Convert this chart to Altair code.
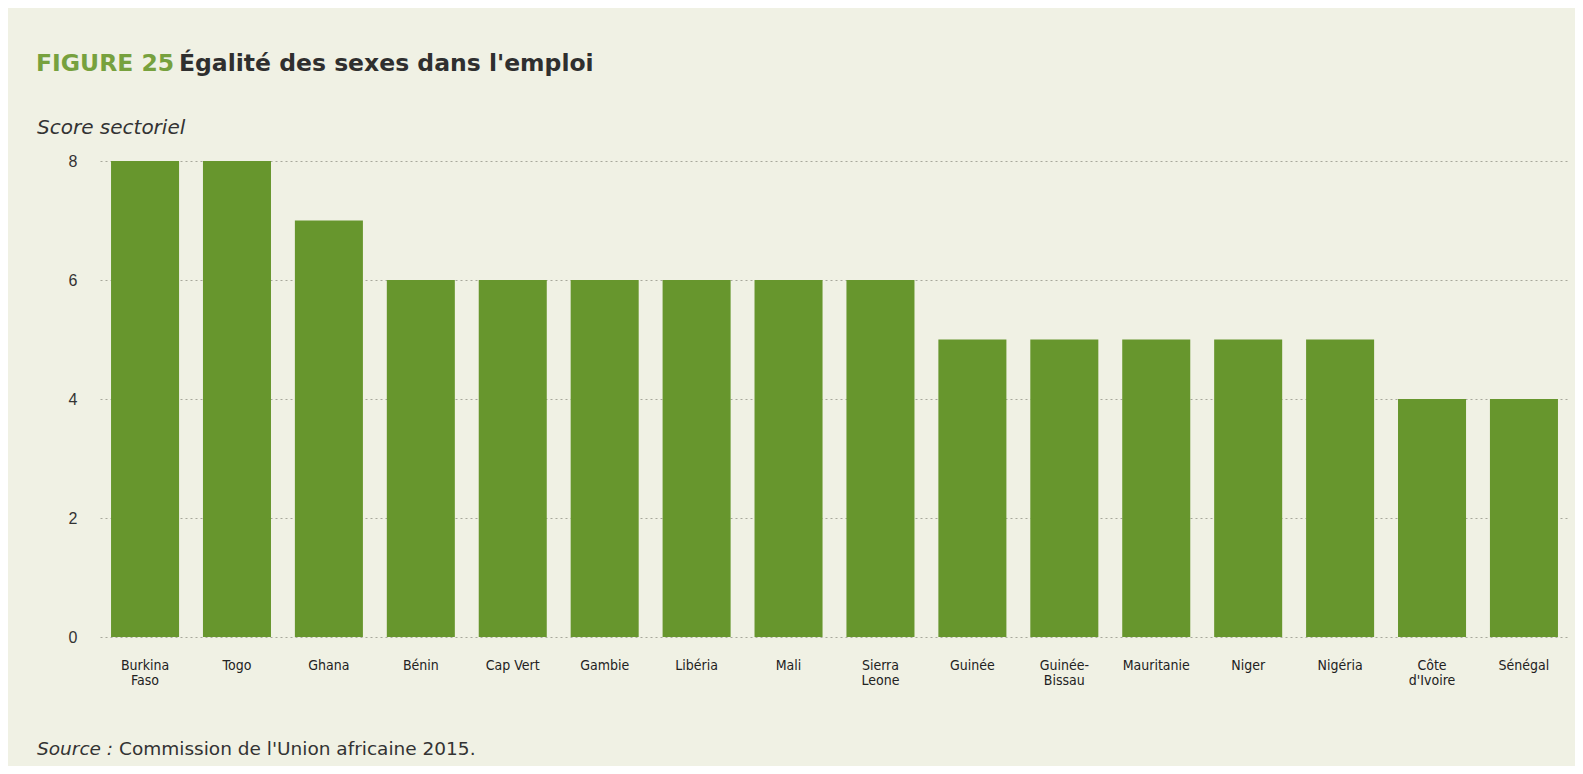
import altair as alt
import pandas as pd

countries = ["Burkina|Faso", "Togo", "Ghana", "Bénin", "Cap Vert", "Gambie", "Libéria", "Mali",
             "Sierra|Leone", "Guinée", "Guinée-|Bissau", "Mauritanie", "Niger", "Nigéria",
             "Côte|d'Ivoire", "Sénégal"]
scores = [8, 8, 7, 6, 6, 6, 6, 6, 6, 5, 5, 5, 5, 5, 4, 4]
y_ticks = [0, 2, 4, 6, 8]

df = pd.DataFrame({"pays": countries, "score": scores})

BG = "#f0f1e4"
GREEN = "#67962d"
TXT = "#333333"
SANS = "DejaVu Sans"

bars = alt.Chart(df).mark_bar(color=GREEN).encode(
    x=alt.X("pays:N", sort=countries,
            scale=alt.Scale(paddingInner=0.26, paddingOuter=0.12),
            axis=alt.Axis(title=None, labelAngle=0, domain=False, ticks=False,
                          labelExpr="split(datum.value, '|')",
                          labelFont="DejaVu Sans Condensed, Liberation Sans", labelFontSize=14,
                          labelLineHeight=15, labelColor="#222222", labelPadding=21)),
    y=alt.Y("score:Q", scale=alt.Scale(domain=[0, 8], nice=False),
            axis=alt.Axis(title=None, values=y_ticks, domain=False, ticks=False,
                          grid=True, gridDash=[2, 3], gridColor="#a8a89c", gridWidth=1,
                          labelFont="Liberation Sans", labelFontSize=16,
                          labelColor=TXT, labelPadding=23)),
)

one = alt.Data(values=[{"a": 1}])

def txt(text, x, y, size, color=TXT, style="normal", weight="normal", baseline="alphabetic"):
    return alt.Chart(one).mark_text(
        text=text, align="left", baseline=baseline, font=SANS,
        fontSize=size, color=color, fontStyle=style, fontWeight=weight,
    ).encode(x=alt.value(x), y=alt.value(y))

title1 = txt("FIGURE 25", -64, -90, 23.5, color="#77a13e", weight="bold")
title2 = txt("Égalité des sexes dans l'emploi", 79, -90, 23.5, color="#2f2f2f", weight="bold")
ylab = txt("Score sectoriel", -63, -33, 20, style="italic", baseline="middle")
src1 = txt("Source :", -63, 588, 18.5, style="italic", baseline="middle")
src2 = txt("Commission de l'Union africaine 2015.", 19, 588, 18.5, baseline="middle")

chart = alt.layer(bars, title1, title2, ylab, src1, src2).properties(
    width=1469, height=476,
    autosize=alt.AutoSizeParams(type="none"),
    padding={"left": 92, "top": 153, "right": 6, "bottom": 129},
    background=BG,
).configure_view(stroke=None)

chart.save("out.html", embed_options={"renderer": "svg", "actions": False})
